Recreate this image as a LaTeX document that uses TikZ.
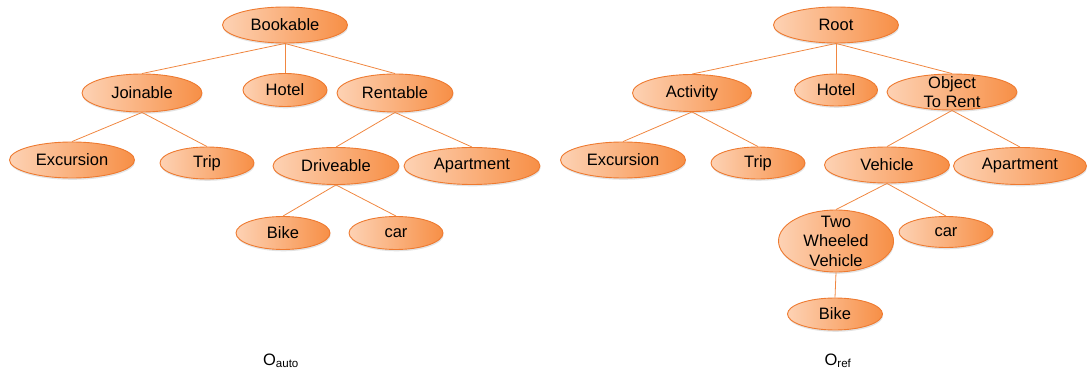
\documentclass[tikz,border=0pt]{standalone}
\usepackage{fontspec}
\setmainfont{Liberation Sans}
\usetikzlibrary{shapes.geometric,shadows}

\definecolor{peach}{RGB}{253,210,180}
\definecolor{deeporange}{RGB}{247,143,70}
\definecolor{rimorange}{RGB}{238,122,48}
\definecolor{linkorange}{RGB}{240,135,65}

\tikzset{
  concept/.style={ellipse, draw=rimorange, line width=0.9pt,
    left color=peach, right color=deeporange, inner sep=0pt,
    drop shadow={opacity=0.22, shadow xshift=0.6pt, shadow yshift=-1.8pt},
    font=\fontsize{16.5}{19.5}\selectfont},
  sized/.style n args={2}{minimum width=#1pt, minimum height=#2pt},
  link/.style={draw=linkorange, line width=0.8pt},
  title/.style={font=\fontsize{16.5}{19.5}\selectfont, anchor=base}
}

\begin{document}
\begin{tikzpicture}[x=1pt,y=-1pt]
\useasboundingbox (0,0) rectangle (1087,374);

% ---------- automatically built ontology ----------
\node[concept, sized={125}{36}] (bookable) at (285,25) {Bookable};
\node[concept, sized={120}{38}] (joinable) at (142,93) {Joinable};
\node[concept, sized={84}{33}]  (hotelA)   at (285,90) {Hotel};
\node[concept, sized={116}{38}] (rentable) at (395,93) {Rentable};
\node[concept, sized={125}{36}] (excA)     at (72,160) {Excursion};
\node[concept, sized={94}{32}]  (tripA)    at (207,163) {Trip};
\node[concept, sized={126}{37}] (drive)    at (336,166) {Driveable};
\node[concept, sized={136}{37}] (aptA)     at (472,166) {Apartment};
\node[concept, sized={94}{33}]  (bikeA)    at (283,233) {Bike};
\node[concept, sized={94}{33}]  (carA)     at (396,233) {car};

\path[link] (bookable.south) -- (joinable.north);
\path[link] (bookable.south) -- (hotelA.north);
\path[link] (bookable.south) -- (rentable.north);
\path[link] (joinable.south) -- (excA.north);
\path[link] (joinable.south) -- (tripA.north);
\path[link] (rentable.south) -- (drive.north);
\path[link] (rentable.south) -- (aptA.north);
\path[link] (drive.south) -- (bikeA.north);
\path[link] (drive.south) -- (carA.north);

\node[title] (oauto) at (281,365) {O\textsubscript{auto}};

% ---------- reference ontology ----------
\node[concept, sized={125}{36}] (root)     at (836,25) {Root};
\node[concept, sized={119}{37}] (activity) at (692,93) {Activity};
\node[concept, sized={83}{32}]  (hotelB)   at (836,90) {Hotel};
\node[concept, sized={130}{36}, label={[font=\fontsize{16.5}{19.5}\selectfont, align=center]center:Object\\To Rent}] (otr) at (952,92) {};
\node[concept, sized={125}{36}] (excB)     at (623,160) {Excursion};
\node[concept, sized={94}{32}]  (tripB)    at (758,163) {Trip};
\node[concept, sized={125}{36}] (vehicle)  at (887,165) {Vehicle};
\node[concept, sized={133}{37}] (aptB)     at (1020,166) {Apartment};
\node[concept, sized={115}{62}, label={[font=\fontsize{16.5}{19.5}\selectfont, align=center]center:Two\\Wheeled\\Vehicle}] (twv) at (836,241) {};
\node[concept, sized={94}{31}]  (carB)     at (946,232) {car};
\node[concept, sized={95}{32}]  (bikeB)    at (835,314) {Bike};

\path[link] (root.south) -- (activity.north);
\path[link] (root.south) -- (hotelB.north);
\path[link] (root.south) -- (otr.north);
\path[link] (activity.south) -- (excB.north);
\path[link] (activity.south) -- (tripB.north);
\path[link] (otr.south) -- (vehicle.north);
\path[link] (otr.south) -- (aptB.north);
\path[link] (vehicle.south) -- (twv.north);
\path[link] (vehicle.south) -- (carB.north);
\path[link] (twv.south) -- (bikeB.north);

\node[title] (oref) at (838,365) {O\textsubscript{ref}};
\end{tikzpicture}
\end{document}
